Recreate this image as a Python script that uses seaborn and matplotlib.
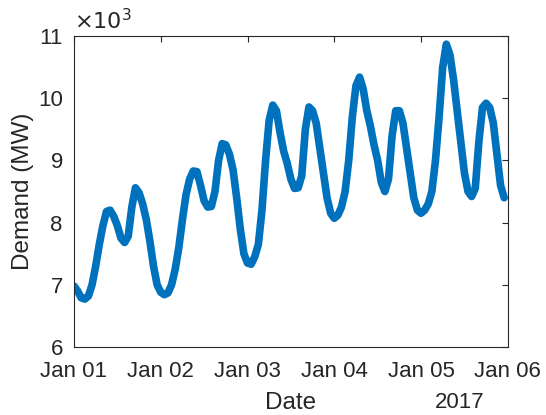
import pandas as pd
import matplotlib
matplotlib.use('Agg')
import matplotlib.pyplot as plt
import matplotlib.dates as mdates
import seaborn as sns

# hourly demand in MW, Jan 01 00:00 to Jan 05 23:00, 2017
demand_day1 = [6980, 6900, 6790, 6770, 6820, 7000, 7300, 7650, 7950, 8180, 8200, 8100,
               7950, 7750, 7680, 7780, 8250, 8560, 8480, 8300, 8050, 7700, 7300, 7000]
demand_day2 = [6880, 6840, 6870, 7000, 7250, 7600, 8050, 8450, 8700, 8830, 8820, 8600,
               8350, 8250, 8260, 8500, 9000, 9270, 9250, 9100, 8850, 8400, 7900, 7500]
demand_day3 = [7350, 7330, 7450, 7650, 8200, 9000, 9650, 9890, 9800, 9450, 9150, 8950,
               8700, 8550, 8560, 8750, 9500, 9860, 9800, 9600, 9200, 8800, 8400, 8150]
demand_day4 = [8070, 8120, 8250, 8500, 9000, 9700, 10200, 10340, 10150, 9800, 9550, 9250,
               9000, 8650, 8500, 8700, 9400, 9800, 9800, 9600, 9200, 8800, 8400, 8200]
demand_day5 = [8150, 8200, 8300, 8500, 9000, 9700, 10500, 10870, 10700, 10300, 9800, 9300,
               8800, 8500, 8420, 8550, 9300, 9850, 9920, 9850, 9600, 9100, 8600, 8400]

demand = demand_day1 + demand_day2 + demand_day3 + demand_day4 + demand_day5
dates = pd.date_range('2017-01-01 00:00', periods=len(demand), freq='h')

df = pd.DataFrame({'Date': dates, 'Demand': [d / 1000 for d in demand]})

sns.set_style('white')
plt.rcParams['font.family'] = ['Liberation Sans', 'DejaVu Sans']

fig = plt.figure(figsize=(5.46, 4.15), dpi=100)
ax = fig.add_axes([0.1355, 0.164, 0.7945, 0.749])

sns.lineplot(data=df, x='Date', y='Demand', color='#0072BD', linewidth=5.5, ax=ax)

ax.set_xlim(pd.Timestamp('2017-01-01'), pd.Timestamp('2017-01-06'))
ax.set_ylim(6, 11)
ax.set_yticks([6, 7, 8, 9, 10, 11])
ax.xaxis.set_major_locator(mdates.DayLocator())
ax.xaxis.set_major_formatter(mdates.DateFormatter('%b %d'))

ax.tick_params(direction='in', top=True, right=True, length=4, width=0.8,
               labelsize=16, colors='#262626')
ax.tick_params(axis='x', pad=10)
ax.tick_params(axis='y', pad=8)
for s in ax.spines.values():
    s.set_color('#262626')
    s.set_linewidth(0.8)

ax.set_xlabel('Date', fontsize=17.5, color='#262626')
ax.xaxis.label.set_va('center')
ax.xaxis.set_label_coords(0.5, -0.18)
ax.set_ylabel('Demand (MW)', fontsize=17.5, color='#262626')
ax.yaxis.label.set_va('center')
ax.yaxis.set_label_coords(-0.118, 0.5)

ax.text(0.0, 1.005, r'$\times 10^3$', transform=ax.transAxes, fontsize=16,
        color='#262626', ha='left', va='bottom')
ax.text(0.889, -0.18, '2017', transform=ax.transAxes, fontsize=16,
        color='#262626', ha='center', va='center')

fig.savefig('out.png', dpi=100)
